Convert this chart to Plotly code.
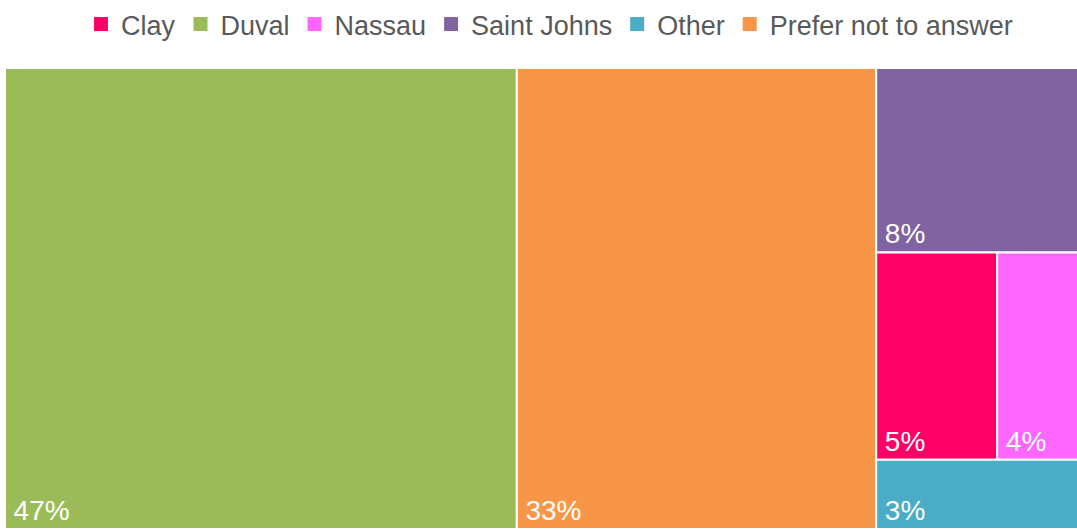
import plotly.graph_objects as go

categories = ["Clay", "Duval", "Nassau", "Saint Johns", "Other", "Prefer not to answer"]
values = [5, 47, 4, 8, 3, 33]
colors = ["#FF0066", "#9BBB59", "#FF66FF", "#8064A2", "#4BACC6", "#F79646"]

fig = go.Figure()

fig.add_trace(go.Treemap(
    labels=categories,
    parents=[""] * len(categories),
    values=values,
    text=["\u2009" + f"{v}%" for v in values],
    texttemplate="%{text}",
    textposition="bottom left",
    textfont=dict(family="Liberation Sans, Arial, sans-serif", size=28, color="white"),
    marker=dict(colors=colors, line=dict(color="white", width=2), pad=dict(t=0, l=0, r=0, b=0)),
    tiling=dict(packing="squarify", squarifyratio=1.618, pad=0),
    pathbar=dict(visible=False),
    sort=True,
    hoverinfo="skip",
    domain=dict(x=[0, 1], y=[0, 0.8715]),
))

for name, col in zip(categories, colors):
    fig.add_trace(go.Scatter(
        x=[None], y=[None], mode="markers", name=name,
        marker=dict(symbol="square", size=14, color=col),
        showlegend=True, hoverinfo="skip",
    ))

# The reference chart is wider than its visible frame (clipped on the right).
fig.update_layout(
    width=1094, height=529,
    margin=dict(l=5, r=0, t=0, b=0),
    paper_bgcolor="white", plot_bgcolor="white",
    xaxis=dict(visible=False), yaxis=dict(visible=False),
    showlegend=True,
    legend=dict(orientation="h", x=0.5, xanchor="center", y=1.0, yanchor="top",
                font=dict(family="Liberation Sans, Arial, sans-serif", size=27, color="#595959"),
                itemclick=False, itemdoubleclick=False),
    font=dict(family="Liberation Sans, Arial, sans-serif"),
)

post = (
    "document.body.style.margin='0';"
    "var gd=document.getElementById('{plot_id}');"
    "gd.parentElement.style.width='1077px';"
    "gd.parentElement.style.height='529px';"
    "gd.parentElement.style.overflow='hidden';"
)

fig.write_html("out.html", config={"displayModeBar": False}, post_script=post)
